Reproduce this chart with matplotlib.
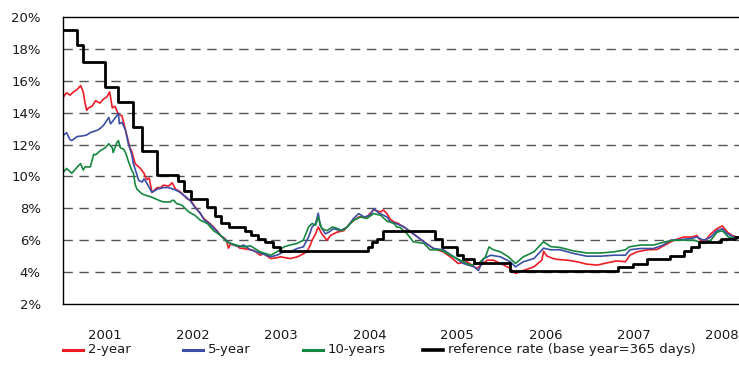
import matplotlib
matplotlib.use("Agg")
import matplotlib.pyplot as plt
from matplotlib.lines import Line2D

# Government bond yields vs. reference rate, in % (time as decimal years)
t_2y = [2000.52, 2000.56, 2000.60, 2000.64, 2000.68, 2000.72, 2000.75, 2000.77, 2000.79, 2000.81,
        2000.85, 2000.89, 2000.94, 2000.98, 2001.02, 2001.05, 2001.08, 2001.11, 2001.15, 2001.19,
        2001.23, 2001.28, 2001.30, 2001.34, 2001.40, 2001.44, 2001.47, 2001.50, 2001.53, 2001.59,
        2001.63, 2001.66, 2001.72, 2001.76, 2001.80, 2001.85, 2001.93, 2001.97, 2002.02, 2002.08,
        2002.12, 2002.19, 2002.27, 2002.31, 2002.36, 2002.38, 2002.40, 2002.42, 2002.48, 2002.53,
        2002.57, 2002.65, 2002.69, 2002.76, 2002.80, 2002.88, 2002.95, 2002.99, 2003.05, 2003.10,
        2003.18, 2003.22, 2003.29, 2003.33, 2003.35, 2003.39, 2003.42, 2003.46, 2003.52, 2003.56,
        2003.63, 2003.71, 2003.78, 2003.88, 2003.97, 2004.05, 2004.13, 2004.16, 2004.20, 2004.24,
        2004.28, 2004.33, 2004.39, 2004.50, 2004.62, 2004.73, 2004.84, 2004.92, 2005.01, 2005.11,
        2005.22, 2005.34, 2005.41, 2005.53, 2005.60, 2005.66, 2005.75, 2005.87, 2005.96, 2005.98,
        2006.02, 2006.04, 2006.09, 2006.13, 2006.25, 2006.36, 2006.47, 2006.59, 2006.70, 2006.81,
        2006.91, 2006.96, 2007.04, 2007.16, 2007.27, 2007.36, 2007.46, 2007.57, 2007.67, 2007.72,
        2007.76, 2007.82, 2007.88, 2007.95, 2008.01, 2008.07, 2008.12, 2008.18]
y_2y = [14.95, 15.25, 15.1, 15.3, 15.45, 15.7, 15.3, 14.6, 14.15, 14.3,
        14.4, 14.75, 14.6, 14.85, 15.0, 15.3, 14.3, 14.4, 13.9, 13.8,
        12.9, 11.8, 11.6, 10.8, 10.5, 10.2, 9.8, 9.9, 9.0, 9.3,
        9.3, 9.45, 9.4, 9.6, 9.2, 9.05, 8.6, 8.5, 8.1, 7.67,
        7.36, 7.05, 6.6, 6.3, 6.1, 5.9, 5.5, 5.75, 5.7, 5.5,
        5.48, 5.4, 5.35, 5.06, 5.15, 4.85, 4.9, 4.96, 4.9, 4.85,
        4.95, 5.06, 5.27, 5.7, 6.0, 6.4, 6.83, 6.4, 6.0, 6.3,
        6.5, 6.6, 7.05, 7.46, 7.46, 7.9, 7.77, 7.9, 7.67, 7.3,
        7.15, 7.05, 6.83, 6.4, 5.9, 5.48, 5.27, 4.96, 4.54, 4.65,
        4.23, 4.75, 4.75, 4.44, 4.23, 3.92, 4.1, 4.33, 4.75, 5.3,
        5.0, 4.96, 4.85, 4.8, 4.75, 4.65, 4.5, 4.44, 4.58, 4.7,
        4.65, 5.06, 5.27, 5.4, 5.42, 5.7, 6.0, 6.2, 6.2, 6.3,
        6.0, 6.0, 6.4, 6.73, 6.9, 6.5, 6.3, 6.2]

t_5y = [2000.52, 2000.55, 2000.56, 2000.60, 2000.62, 2000.68, 2000.75, 2000.79, 2000.83, 2000.91,
        2000.94, 2000.98, 2001.04, 2001.06, 2001.09, 2001.13, 2001.15, 2001.16, 2001.19, 2001.23,
        2001.26, 2001.30, 2001.32, 2001.36, 2001.38, 2001.42, 2001.44, 2001.47, 2001.53, 2001.59,
        2001.66, 2001.72, 2001.80, 2001.85, 2001.93, 2001.97, 2002.02, 2002.08, 2002.12, 2002.19,
        2002.27, 2002.31, 2002.36, 2002.42, 2002.48, 2002.53, 2002.57, 2002.65, 2002.76, 2002.88,
        2002.95, 2003.03, 2003.10, 2003.18, 2003.25, 2003.31, 2003.35, 2003.39, 2003.42, 2003.44,
        2003.50, 2003.54, 2003.59, 2003.67, 2003.75, 2003.82, 2003.88, 2003.94, 2004.01, 2004.05,
        2004.11, 2004.20, 2004.24, 2004.28, 2004.35, 2004.39, 2004.50, 2004.62, 2004.73, 2004.84,
        2004.96, 2005.07, 2005.19, 2005.24, 2005.30, 2005.38, 2005.49, 2005.60, 2005.66, 2005.75,
        2005.87, 2005.98, 2006.06, 2006.17, 2006.32, 2006.47, 2006.63, 2006.78, 2006.91, 2006.96,
        2007.08, 2007.23, 2007.34, 2007.42, 2007.53, 2007.65, 2007.72, 2007.80, 2007.88, 2007.95,
        2008.01, 2008.07, 2008.18]
y_5y = [12.56, 12.7, 12.75, 12.3, 12.25, 12.5, 12.55, 12.6, 12.75, 12.9,
        13.0, 13.2, 13.7, 13.3, 13.5, 13.8, 13.95, 13.3, 13.4, 12.9,
        12.1, 11.4, 10.8, 10.1, 9.75, 9.65, 9.85, 9.6, 9.0, 9.2,
        9.3, 9.3, 9.15, 9.0, 8.65, 8.45, 8.05, 7.7, 7.3, 7.0,
        6.55, 6.3, 6.05, 5.8, 5.65, 5.6, 5.7, 5.4, 5.2, 4.96,
        5.06, 5.27, 5.27, 5.48, 5.58, 6.2, 6.83, 7.05, 7.7, 6.94,
        6.4, 6.5, 6.73, 6.6, 6.83, 7.36, 7.67, 7.46, 7.56, 7.98,
        7.7, 7.46, 7.15, 7.1, 6.94, 6.85, 6.4, 5.9, 5.48, 5.4,
        4.96, 4.54, 4.33, 4.1, 4.85, 5.06, 4.96, 4.65, 4.33, 4.65,
        4.85, 5.5, 5.4, 5.4, 5.17, 5.0, 5.0, 5.06, 5.06, 5.4,
        5.48, 5.48, 5.7, 6.0, 6.04, 6.1, 6.2, 6.0, 6.2, 6.6,
        6.73, 6.4, 6.1]

t_10y = [2000.52, 2000.53, 2000.56, 2000.62, 2000.70, 2000.72, 2000.75, 2000.77, 2000.83, 2000.87,
         2000.89, 2000.94, 2001.00, 2001.04, 2001.08, 2001.09, 2001.13, 2001.15, 2001.17, 2001.21,
         2001.23, 2001.26, 2001.30, 2001.32, 2001.34, 2001.36, 2001.40, 2001.42, 2001.47, 2001.53,
         2001.61, 2001.66, 2001.74, 2001.76, 2001.78, 2001.81, 2001.87, 2001.95, 2002.02, 2002.08,
         2002.16, 2002.23, 2002.31, 2002.38, 2002.48, 2002.57, 2002.65, 2002.76, 2002.88, 2002.95,
         2003.03, 2003.10, 2003.18, 2003.25, 2003.31, 2003.35, 2003.39, 2003.42, 2003.46, 2003.52,
         2003.58, 2003.63, 2003.69, 2003.75, 2003.82, 2003.90, 2003.97, 2004.05, 2004.13, 2004.20,
         2004.28, 2004.31, 2004.35, 2004.43, 2004.50, 2004.62, 2004.69, 2004.81, 2004.92, 2005.03,
         2005.15, 2005.24, 2005.32, 2005.36, 2005.41, 2005.49, 2005.58, 2005.66, 2005.75, 2005.87,
         2005.96, 2005.98, 2006.06, 2006.17, 2006.32, 2006.47, 2006.63, 2006.78, 2006.91, 2006.95,
         2007.08, 2007.23, 2007.36, 2007.46, 2007.57, 2007.69, 2007.80, 2007.88, 2007.95, 2008.01,
         2008.08, 2008.18]
y_10y = [10.5, 10.3, 10.5, 10.2, 10.7, 10.8, 10.4, 10.6, 10.6, 11.4,
         11.35, 11.6, 11.8, 12.05, 11.8, 11.5, 12.1, 12.25, 11.8, 11.7,
         11.5, 11.0, 10.4, 10.2, 9.5, 9.2, 9.0, 8.9, 8.8, 8.7,
         8.5, 8.4, 8.4, 8.5, 8.5, 8.3, 8.2, 7.77, 7.56, 7.25,
         7.05, 6.6, 6.3, 5.9, 5.7, 5.58, 5.65, 5.27, 5.06, 5.27,
         5.58, 5.7, 5.8, 6.0, 6.83, 7.05, 6.94, 7.46, 6.73, 6.6,
         6.83, 6.75, 6.6, 6.83, 7.25, 7.46, 7.36, 7.67, 7.56, 7.2,
         7.05, 6.83, 6.8, 6.4, 5.9, 5.8, 5.4, 5.4, 5.06, 4.75,
         4.44, 4.54, 4.96, 5.58, 5.4, 5.27, 4.96, 4.54, 4.96, 5.27,
         5.8, 5.9, 5.6, 5.54, 5.33, 5.2, 5.2, 5.27, 5.4, 5.58,
         5.7, 5.7, 5.9, 6.0, 6.0, 6.0, 5.8, 6.0, 6.5, 6.6,
         6.2, 6.1]

# Reference rate: value in force from each change date onward
t_ref = [2000.52, 2000.68, 2000.75, 2001.00, 2001.15, 2001.32, 2001.42, 2001.59, 2001.83, 2001.90,
         2001.97, 2002.16, 2002.25, 2002.32, 2002.41, 2002.59, 2002.66, 2002.73, 2002.82, 2002.91,
         2002.99, 2003.99, 2004.03, 2004.09, 2004.16, 2004.75, 2004.83, 2005.00, 2005.07, 2005.19,
         2005.60, 2006.82, 2007.00, 2007.15, 2007.42, 2007.57, 2007.66, 2007.75, 2007.99, 2008.15,
         2008.20]
y_ref = [19.2, 18.25, 17.2, 15.6, 14.65, 13.1, 11.6, 10.1, 9.7, 9.07,
         8.6, 8.1, 7.5, 7.05, 6.85, 6.6, 6.3, 6.05, 5.86, 5.58,
         5.3, 5.58, 5.86, 6.06, 6.6, 6.05, 5.6, 5.06, 4.8, 4.6,
         4.1, 4.3, 4.5, 4.8, 5.0, 5.3, 5.58, 5.86, 6.1, 6.2,
         6.2]

years = [2001, 2002, 2003, 2004, 2005, 2006, 2007, 2008]
y_ticks = [2, 4, 6, 8, 10, 12, 14, 16, 18, 20]

labels = ["2-year", "5-year", "10-years", "reference rate (base year=365 days)"]
colors = ["#ee1c25", "#3c4fa6", "#15873f", "#000000"]
widths = [1.2, 1.2, 1.2, 2.0]

plt.rcParams["font.family"] = "DejaVu Sans"
plt.rcParams["font.size"] = 9.5

fig = plt.figure(figsize=(7.39, 3.72), dpi=100)
ax = fig.add_axes([63 / 739, 1 - 304 / 372, 1 - 63 / 739, (304 - 17) / 372])

ax.plot(t_2y, y_2y, color=colors[0], lw=widths[0])
ax.plot(t_5y, y_5y, color=colors[1], lw=widths[1])
ax.plot(t_10y, y_10y, color=colors[2], lw=widths[2])
ax.plot(t_ref, y_ref, color=colors[3], lw=widths[3], drawstyle="steps-post")

ax.set_xlim(2000.52, 2008.20)
ax.set_ylim(2, 20)
ax.set_xticks(years)
ax.set_xticklabels([str(y) for y in years])
ax.set_yticks(y_ticks)
ax.set_yticklabels([f"{v}%" for v in y_ticks])
ax.tick_params(axis="both", length=0, colors="#1a1a1a")
ax.tick_params(axis="x", pad=18)
ax.tick_params(axis="y", pad=16)

# dashed horizontal gridlines between the frame lines
for v in y_ticks[1:-1]:
    ax.axhline(v, color="#555555", lw=1.0, ls=(0, (6.7, 4.8)), zorder=0)

ax.spines["right"].set_visible(False)
for side in ["left", "bottom", "top"]:
    ax.spines[side].set_linewidth(1.0)
    ax.spines[side].set_color("#000000")

# legend row, evenly spaced entries
for i, (lab, col, lw) in enumerate(zip(labels, colors, widths)):
    x0 = (63 + 120 * i) / 739
    yl = 1 - 350 / 372
    fig.add_artist(Line2D([x0, x0 + 20 / 739], [yl, yl], color=col,
                          lw=2.2 if lw < 2 else 2.6, transform=fig.transFigure))
    fig.text(x0 + 25 / 739, yl, lab, va="center", ha="left", color="#1a1a1a")

fig.savefig("out.png", dpi=100)
